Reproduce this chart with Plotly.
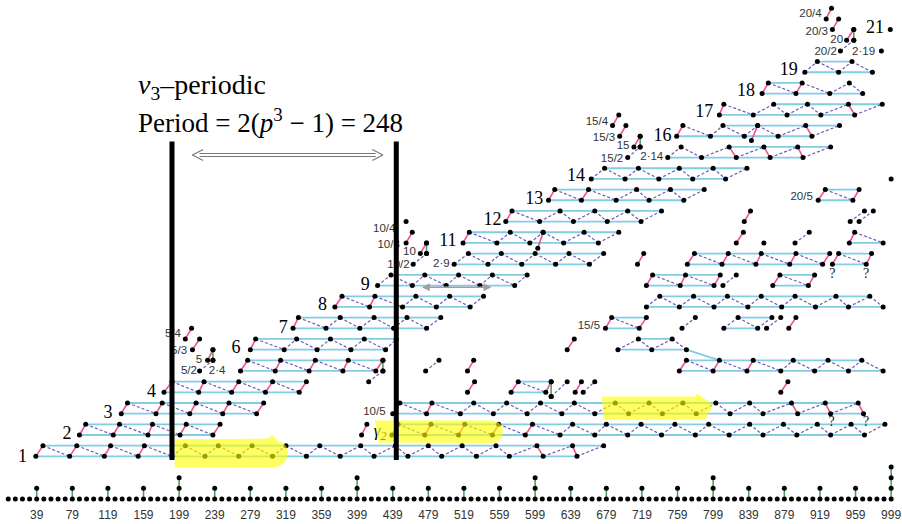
import plotly.graph_objects as go

# ---------------- data (t = stem, s = filtration) ----------------
TICKS = [39, 79, 119, 159, 199, 239, 279, 319, 359, 399, 439, 479, 519, 559, 599,
         639, 679, 719, 759, 799, 839, 879, 919, 959, 999]
STEM_H = [1, 1, 1, 1, 2, 1, 1, 1, 1, 2, 1, 1, 1, 1, 2, 1, 1, 1, 1, 2, 1, 1, 1, 1, 3]
BASE_T = [7, 15, 23, 31, 39, 47, 55, 63, 71, 79, 87, 95, 103, 111, 119, 127, 135, 143, 151, 159,
          167, 175, 183, 191, 199, 207, 215, 223, 231, 239, 247, 255, 263, 271, 279, 287, 295, 303,
          311, 319, 327, 335, 343, 351, 359, 367, 375, 383, 391, 399, 407, 415, 423, 431, 439, 447,
          455, 463, 471, 479, 487, 495, 503, 511, 519, 527, 535, 543, 551, 559, 567, 575, 583, 591,
          599, 607, 615, 623, 631, 639, 647, 655, 663, 671, 679, 687, 695, 703, 711, 719, 727, 735,
          743, 751, 759, 767, 775, 783, 791, 799, 807, 815, 823, 831, 839, 847, 855, 863, 871, 879,
          887, 895, 903, 911, 919, 927, 935, 943, 951, 959, 967, 975, 983, 991, 999]

# zig-zag bands: (bottom filtration, first point level 0=bottom/1=top, stems alternating)
BANDS = [
    (4, 0, [38, 46, 76, 84, 115, 122, 153, 160, 191, 206, 228, 243, 266, 281, 304, 319, 342, 357,
            380, 403, 418, 442, 456, 479, 494, 517, 533, 555, 570, 601, 608, 641, 646, 676]),
    (6, 0, [87, 94, 125, 132, 164, 169, 200, 207, 237, 245]),
    (8, 0, [134, 141, 173, 180, 211, 218, 248, 255, 286, 294]),
    (10, 0, [182, 191, 221, 227, 258, 266, 296, 304, 334, 342]),
    (12, 0, [268, 276, 307, 313, 345, 352, 383, 389, 420, 428]),
    (14, 0, [279, 285, 317, 331, 354, 369, 392, 407, 431, 443]),
    (16, 0, [327, 333, 364, 380, 402, 418, 440, 455, 477, 493]),
    (18, 0, [374, 382, 413, 419, 450, 465, 488, 503, 526, 541]),
    (20, 0, [422, 437, 461, 475, 499, 513, 537, 551, 576, 590]),
    (22, 0, [508, 524, 546, 561, 584, 599, 622, 637, 660, 676]),
    (24, 0, [518, 525, 556, 571, 593, 608, 631, 654, 670, 693]),
    (26, 0, [566, 573, 604, 627, 642, 666, 680, 703, 718, 741]),
    (28, 0, [614, 621, 651, 659, 690, 713, 727, 751, 766, 789]),
    (30, 0, [662, 677, 700, 715, 738, 761, 776, 799, 813, 837]),
    (32, 0, [748, 763, 786, 817, 825, 856, 863, 894, 900, 931]),
    (34, 0, [758, 765, 796, 810, 834, 849, 872, 903, 910, 941]),
    (36, 0, [806, 811, 844, 867, 882, 905, 920, 951, 958, 989]),
    (38, 0, [854, 861, 892, 899, 930, 952, 967]),
    (40, 0, [902, 916, 940, 955, 978]),
    (6, 0, [438, 445, 475, 482, 513, 520, 551, 558, 588, 596, 627, 641, 666, 679, 703, 718, 741,
            756, 779, 794, 817, 840, 855, 878, 893, 916, 931, 954, 969, 992]),
    (8, 0, [439, 447, 477, 483, 515, 530, 552, 567, 590, 605, 629, 643, 666, 689, 704, 727, 742,
            765, 780, 802, 818, 840, 855, 887, 894, 925, 931, 962, 968]),
    (10, 0, [572, 580, 611, 617]),
    (12, 0, [761, 769, 799, 806, 837, 844, 875, 889, 913, 928, 951, 966, 990]),
    (14, 0, [692, 715, 730, 753, 769]),
    (16, 0, [678, 685, 716, 724]),
    (16, 0, [811, 827, 849, 865]),
    (18, 0, [724, 739, 761, 777, 800, 815, 838, 853, 876, 891, 914, 937, 951, 975, 990]),
    (20, 0, [724, 731, 762, 768, 800, 807]),
    (20, 0, [866, 874, 906, 913]),
    (22, 0, [770, 778, 809, 816, 847, 853, 885, 892, 922, 930]),
    (22, 0, [933, 940, 971, 977]),
    (24, 0, [952, 958, 990]),
    (28, 0, [917, 925, 956, 963]),
]

# horizontal cyan lines: (t_start, t_end, s)
CYAN = [(46, 676, 5), (38, 646, 4), (94, 245, 7), (87, 237, 6), (141, 294, 9), (134, 286, 8),
        (191, 342, 11), (182, 334, 10), (276, 428, 13), (268, 420, 12), (285, 443, 15),
        (279, 431, 14), (333, 493, 17), (327, 477, 16), (382, 541, 19), (374, 526, 18),
        (437, 590, 21), (422, 576, 20), (524, 676, 23), (508, 660, 22), (525, 693, 25),
        (518, 670, 24), (573, 741, 27), (566, 718, 26), (621, 789, 29), (614, 766, 28),
        (677, 837, 31), (662, 813, 30), (817, 931, 33), (748, 900, 32), (810, 941, 35),
        (758, 910, 34), (867, 989, 37), (806, 958, 36), (861, 899, 39), (854, 967, 38),
        (916, 955, 41), (902, 978, 40), (445, 992, 7), (438, 969, 6), (447, 962, 9),
        (439, 968, 8), (580, 617, 11), (572, 611, 10), (769, 966, 13), (761, 990, 12),
        (715, 753, 15), (692, 769, 14), (685, 724, 17), (678, 716, 16), (827, 865, 17),
        (811, 849, 16), (739, 975, 19), (724, 990, 18), (731, 807, 21), (724, 800, 20),
        (874, 913, 21), (866, 906, 20), (778, 930, 23), (770, 922, 22), (940, 977, 23),
        (933, 971, 22), (952, 990, 24), (925, 963, 29), (917, 956, 28)]
CYAN_SLANT = [(769, 14, 806, 13)]

# isolated segments (t1, s1, t2, s2)
SEGMENTS = [
    (428, 13, 428, 12), (428, 12, 412, 11),
    (222, 12, 237, 13), (231, 13, 237, 14), (237, 13, 237, 14), (214, 14, 222, 15), (206, 15, 213, 16),
    (454, 24, 461, 25), (470, 23, 477, 24), (477, 23, 477, 24), (462, 22, 477, 23),
    (703, 32, 717, 33), (710, 33, 717, 34), (717, 33, 717, 34), (694, 34, 701, 35), (686, 35, 693, 36),
    (942, 42, 957, 43), (949, 43, 957, 44), (957, 43, 957, 44), (933, 44, 940, 45), (926, 45, 932, 46),
    (608, 25, 602, 23.5), (849, 35, 842, 33.6),
    (404, 6, 410, 7),
    (617, 11, 617, 9.6), (617, 9.6, 635, 11), (644, 10, 651, 11), (653, 10, 666, 11),
    (875, 10, 883, 11), (523, 10, 531, 11),
    (523, 12, 530, 13), (476, 12, 491, 13),
    (635, 14, 643, 15),
    (764, 16, 779, 17), (859, 16, 875, 17), (884, 16, 892, 17),
    (810, 20, 825, 21), (714, 22, 721, 23),
    (825, 24, 833, 25), (891, 24, 907, 25),
    (834, 26, 841, 27), (953, 26, 969, 27), (963, 26, 979, 27),
]
LONE_DOTS = [(999, 30), (856, 24), (454, 26), (988, 42), (998, 44)]

BIG_LABELS = [("1", 23, 3.9), ("2", 73, 6), ("3", 119, 8), ("4", 168, 10), ("6", 263, 14.1),
              ("7", 316, 16), ("8", 360, 18.1), ("9", 408, 20), ("11", 501, 24.1),
              ("12", 551, 26.1), ("13", 598, 28.1), ("14", 645, 30.2), ("16", 742, 34),
              ("17", 789, 36.2), ("18", 836, 38.2), ("19", 884, 40.2), ("21", 981, 44.1)]
SMALL_LABELS = [("2·4", 251, 12), ("5/2", 219, 12), ("5", 225, 13), ("5/3", 208, 13.9),
                ("5/4", 201, 15.5), ("10/4", 442, 25.3), ("10/3", 447, 23.8), ("10", 465, 23.1),
                ("10/2", 458, 21.9), ("10/5", 431, 8.1), ("2·9", 503, 22), ("15/5", 672, 16.2),
                ("15/2", 698, 31.9), ("15", 705, 33.1), ("15/3", 689, 33.8), ("15/4", 681, 35.3),
                ("2·14", 743, 32), ("20/5", 911, 28.3), ("20/2", 938, 41.9), ("20", 945, 43),
                ("20/3", 928, 43.8), ("20/4", 921, 45.4), ("2·19", 981, 41.9)]
QMARKS = [(932, 7.2), (971, 7.2), (933, 21), (971, 21)]
GAMMA_LABEL = ("γ<sub>2</sub>", 432, 6.3)

BARS_T = [191, 443]
BAR_S = (3.65, 33.5)

X_RANGE = [-2.24, 1011.2]
Y_RANGE = [-0.656, 46.77]

# ---------------- build ----------------
fig = go.Figure()


def add_lines(segs, color, width, dash=None):
    xs, ys = [], []
    for (x1, y1, x2, y2) in segs:
        xs += [x1, x2, None]
        ys += [y1, y2, None]
    fig.add_trace(go.Scatter(x=xs, y=ys, mode="lines",
                             line=dict(color=color, width=width, dash=dash),
                             hoverinfo="skip", showlegend=False))


cyan_segs = [(a, s, b, s) for a, b, s in CYAN] + CYAN_SLANT
pink, purple, green, dots = [], [], [], []
for s0, first, ts in BANDS:
    pts = [(t, s0 + ((i + first) % 2)) for i, t in enumerate(ts)]
    dots += pts
    for a, b in zip(pts[:-1], pts[1:]):
        seg = (a[0], a[1], b[0], b[1])
        (pink if abs(b[0] - a[0]) <= 10 else purple).append(seg)
for seg in SEGMENTS:
    x1, y1, x2, y2 = seg
    dots += [(x1, y1), (x2, y2)]
    if x1 == x2:
        green.append(seg)
    elif abs(x2 - x1) <= 10:
        pink.append(seg)
    else:
        purple.append(seg)
dots += LONE_DOTS
dots += [(t, 0) for t in BASE_T]
for t, h in zip(TICKS, STEM_H):
    green.append((t, 0, t, h))
    dots += [(t, k) for k in range(1, h + 1)]

add_lines(cyan_segs, "#84cbe6", 1.8)
add_lines(purple, "#7158b5", 1.2, "3px,2px")
add_lines(pink, "#f2508f", 1.6)
add_lines(green, "#3f9e55", 1.5)

fig.add_trace(go.Scatter(x=[d[0] for d in dots], y=[d[1] for d in dots], mode="markers",
                         marker=dict(color="black", size=5), hoverinfo="skip", showlegend=False))

fig.add_trace(go.Scatter(x=[l[1] for l in BIG_LABELS], y=[l[2] for l in BIG_LABELS],
                         text=[l[0] for l in BIG_LABELS], mode="text", textposition="middle center",
                         textfont=dict(family="Liberation Serif", size=18, color="black"),
                         hoverinfo="skip", showlegend=False))
fig.add_trace(go.Scatter(x=[l[1] for l in SMALL_LABELS], y=[l[2] for l in SMALL_LABELS],
                         text=[l[0] for l in SMALL_LABELS], mode="text", textposition="middle left",
                         textfont=dict(family="Liberation Sans", size=11.5, color="#333"),
                         hoverinfo="skip", showlegend=False))
fig.add_trace(go.Scatter(x=[q[0] for q in QMARKS], y=[q[1] for q in QMARKS], text=["?"] * len(QMARKS),
                         mode="text", textposition="middle center",
                         textfont=dict(family="Liberation Serif", size=14, color="#222"),
                         hoverinfo="skip", showlegend=False))
fig.add_trace(go.Scatter(x=[GAMMA_LABEL[1]], y=[GAMMA_LABEL[2]], text=["<i>" + GAMMA_LABEL[0] + "</i>"],
                         mode="text", textposition="middle left",
                         textfont=dict(family="Liberation Serif", size=17, color="black"),
                         hoverinfo="skip", showlegend=False))

# highlights
HL = "rgba(255,255,0,0.62)"
shapes = [
    dict(type="path", xref="x", yref="y", layer="above", fillcolor=HL, line=dict(width=0),
         path="M 194,5.6 L 298,5.65 L 304,6.0 L 311,5.4 Q 322,5.2 321,4.2 Q 320,2.95 300,2.95 L 194,3.0 Z"),
    dict(type="path", xref="x", yref="y", layer="above", fillcolor=HL, line=dict(width=0),
         path="M 419,7.35 L 548,7.35 Q 563,7.3 563,6.3 Q 562,5.25 548,5.25 L 423,5.3 Z"),
    dict(type="path", xref="x", yref="y", layer="above", fillcolor=HL, line=dict(width=0),
         path="M 674,9.6 L 779,9.6 L 781,9.9 L 799,8.85 L 790,7.4 L 676,7.4 Z"),
]
for bt in BARS_T:
    shapes.append(dict(type="line", xref="x", yref="y", layer="above", x0=bt, x1=bt,
                       y0=BAR_S[0], y1=BAR_S[1], line=dict(color="black", width=5)))
# hollow double arrow (period)
AR_GRAY = "#777"
for yy in (32.38, 32.10):
    shapes.append(dict(type="line", xref="x", yref="y", layer="above", x0=222, x1=420,
                       y0=yy, y1=yy, line=dict(color=AR_GRAY, width=1.1)))
for (xa, xb) in ((214, 226), (428, 416)):
    for yb in (32.75, 31.73):
        shapes.append(dict(type="line", xref="x", yref="y", layer="above", x0=xa, x1=xb,
                           y0=32.24, y1=yb, line=dict(color=AR_GRAY, width=1.1)))

fig.update_layout(shapes=shapes)

fig.add_annotation(x=550, y=19.85, ax=470, ay=19.85, xref="x", yref="y", axref="x", ayref="y",
                   text="", showarrow=True, arrowhead=2, arrowsize=1, arrowwidth=1.6,
                   arrowside="end+start", arrowcolor="#a0a0a0")
fig.add_annotation(x=150, y=38.7, xref="x", yref="y", xanchor="left", yanchor="middle",
                   text="<i>v</i><sub>3</sub>–periodic", showarrow=False,
                   font=dict(family="Liberation Serif", size=28, color="black"))
fig.add_annotation(x=150, y=35.4, xref="x", yref="y", xanchor="left", yanchor="middle",
                   text="Period = 2(<i>p</i><sup>3</sup> − 1) = 248", showarrow=False,
                   font=dict(family="Liberation Serif", size=27, color="black"))

fig.update_layout(
    width=902, height=524, autosize=False,
    margin=dict(l=0, r=0, t=0, b=18),
    paper_bgcolor="white", plot_bgcolor="white",
    xaxis=dict(range=X_RANGE, showgrid=False, zeroline=False, showline=False, ticks="",
               tickmode="array", tickvals=TICKS, ticktext=[str(t) for t in TICKS],
               tickfont=dict(family="Liberation Sans", size=12, color="#333"), fixedrange=True),
    yaxis=dict(range=Y_RANGE, visible=False, fixedrange=True),
    showlegend=False,
)

fig.write_html("out.html")
